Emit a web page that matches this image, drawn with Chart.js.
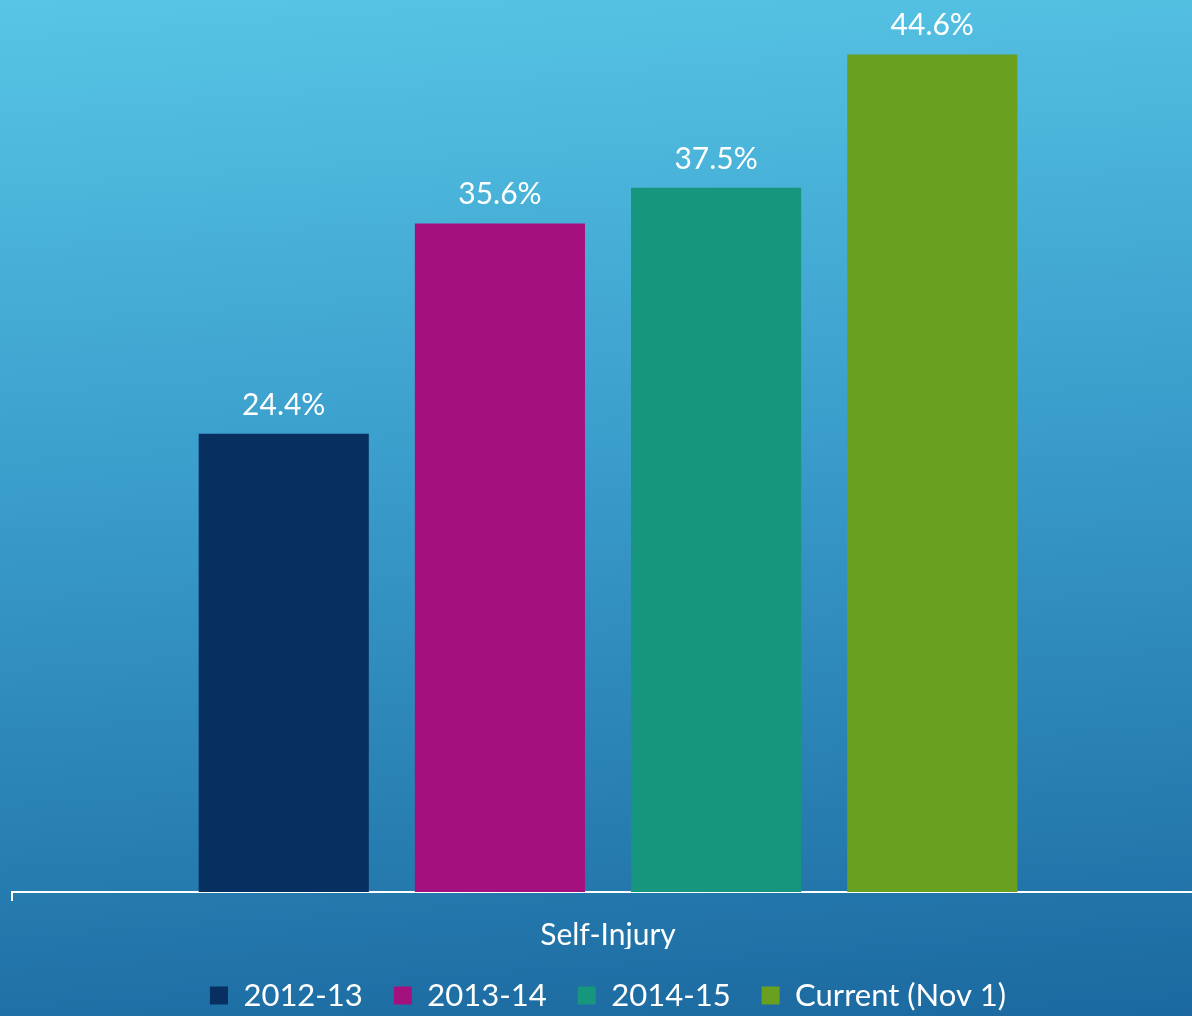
<!DOCTYPE html>
<html>
<head>
<meta charset="utf-8">
<script src="https://cdn.jsdelivr.net/npm/chart.js@4/dist/chart.umd.min.js"></script>
<style>
  html, body { margin: 0; padding: 0; overflow: hidden; width: 1192px; height: 1016px; }
  body { background: linear-gradient(176deg, #57c5e5 0%, #3a9dcb 45%, #1b69a0 100%); }
  #wrap { width: 1204px; height: 1021px; }
</style>
</head>
<body>
<div id="wrap"><canvas id="chartCanva" width="1204" height="1021"></canvas></div>
<script>
const categories = ['Self-Injury'];
const seriesNames = ['2012-13', '2013-14', '2014-15', 'Current (Nov 1)'];
const seriesValues = [24.4, 35.6, 37.5, 44.6];
const seriesColors = ['#072f5f', '#a5107f', '#16967c', '#6aa01f'];

const fontFamily = "Lato, 'Open Sans', sans-serif";

// draws the "xx.x%" labels on top of each bar
const valueLabels = {
    id: 'valueLabels',
    afterDatasetsDraw(chart) {
        const ctx = chart.ctx;
        ctx.save();
        ctx.fillStyle = '#ffffff';
        ctx.font = '30px ' + fontFamily;
        ctx.textAlign = 'center';
        ctx.textBaseline = 'alphabetic';
        chart.data.datasets.forEach((ds, i) => {
            const meta = chart.getDatasetMeta(i);
            meta.data.forEach((bar, j) => {
                ctx.fillText(ds.data[j].toFixed(1) + '%', bar.x, bar.y - 19);
            });
        });
        ctx.restore();
    }
};

const datasets = seriesNames.map((name, i) => ({
    label: name,
    data: [seriesValues[i]],
    backgroundColor: seriesColors[i],
    borderWidth: 0,
    categoryPercentage: 0.7254,
    barPercentage: 0.787
}));

const config = {
    type: 'bar',
    data: { labels: categories, datasets: datasets },
    options: {
        responsive: false,
        animation: false,
        devicePixelRatio: 1,
        layout: { padding: { left: 12, top: 0, right: 0, bottom: 0 } },
        plugins: {
            tooltip: { enabled: false },
            legend: {
                display: true,
                position: 'bottom',
                labels: {
                    color: '#ffffff',
                    font: { size: 31, family: fontFamily },
                    boxWidth: 18,
                    boxHeight: 18,
                    padding: 31
                }
            }
        },
        scales: {
            x: {
                ticks: {
                    color: '#ffffff',
                    font: { size: 30, family: fontFamily },
                    padding: 16
                },
                grid: {
                    color: '#ffffff',
                    lineWidth: 2,
                    drawOnChartArea: false,
                    drawTicks: true,
                    tickLength: 9
                },
                border: { color: '#ffffff', width: 2 },
                // keep the plot bottom where it was after the larger label padding
                afterFit: function(scale) {
                    scale.height -= 20;
                }
            },
            y: {
                display: false,
                min: 0,
                max: 47.5
            }
        }
    },
    plugins: [valueLabels]
};

const myChart = new Chart(document.getElementById('chartCanva'), config);
</script>
</body>
</html>
